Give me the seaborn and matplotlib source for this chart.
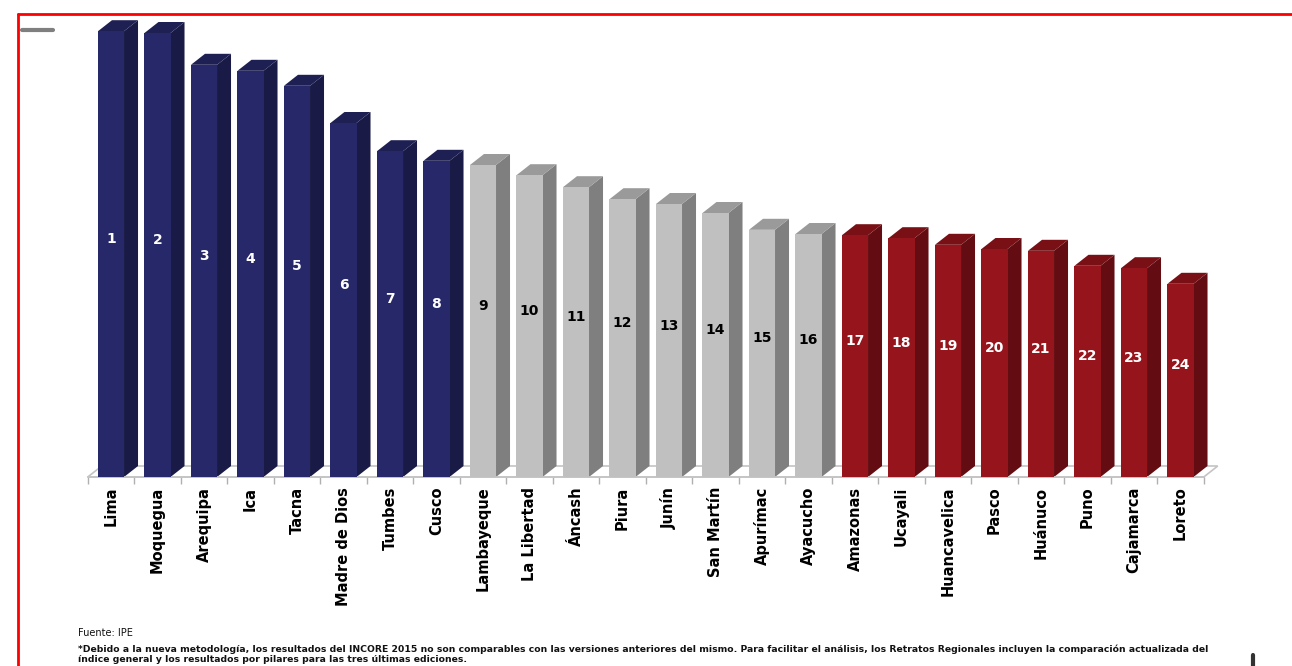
import matplotlib.pyplot as plt
import numpy as np
import pandas as pd
import seaborn as sns
from matplotlib.patches import Polygon

sns.set_theme(style="white")
plt.rcParams["font.family"] = ["DejaVu Sans"]

# INCORE ranking (bar height, arbitrary index units)
REGIONS = [
    "Lima", "Moquegua", "Arequipa", "Ica", "Tacna", "Madre de Dios", "Tumbes", "Cusco",
    "Lambayeque", "La Libertad", "Áncash", "Piura", "Junín", "San Martín", "Apurímac",
    "Ayacucho", "Amazonas", "Ucayali", "Huancavelica", "Pasco", "Huánuco", "Puno",
    "Cajamarca", "Loreto",
]
SCORES = [
    7.43, 7.40, 6.87, 6.77, 6.52, 5.90, 5.43, 5.27,
    5.20, 5.03, 4.83, 4.63, 4.55, 4.40, 4.12,
    4.05, 4.03, 3.98, 3.87, 3.80, 3.77, 3.52,
    3.48, 3.22,
]
RANKS = list(range(1, 25))
GROUPS = ["alto"] * 8 + ["medio"] * 8 + ["bajo"] * 8

PALETTE = {"alto": "#262869", "medio": "#c0c0c0", "bajo": "#96141b"}
LABEL_COLOR = {"alto": "white", "medio": "black", "bajo": "white"}

SOURCE = "Fuente: IPE"
NOTE = ("*Debido a la nueva metodología, los resultados del INCORE 2015 no son comparables con las "
        "versiones anteriores del mismo. Para facilitar el análisis, los Retratos Regionales incluyen "
        "la comparación actualizada del\níndice general y los resultados por pilares para las tres "
        "últimas ediciones.")

df = pd.DataFrame({"region": REGIONS, "score": SCORES, "rank": RANKS, "group": GROUPS})

W, H = 1292, 666
fig = plt.figure(figsize=(W / 100, H / 100), dpi=100)
ax_left, ax_right, ax_bottom, ax_top = 87.75, 1203.75, 477, 20
ax = fig.add_axes([ax_left / W, (H - ax_bottom) / H, (ax_right - ax_left) / W, (ax_bottom - ax_top) / H])

sns.barplot(data=df, x="region", y="score", hue="group", palette=PALETTE,
            dodge=False, width=0.56, legend=False, saturation=1, ax=ax)
ax.set_xlim(-0.5, len(REGIONS) - 0.5)
ax.set_ylim(0, (ax_bottom - ax_top) / 60)

# depth of the fake 3D effect, in pixels
DX, DY = 14, 11


def shifted(x, y):
    px, py = ax.transData.transform((x, y))
    return ax.transData.inverted().transform((px + DX, py + DY))


def shade(color, f):
    r, g, b = plt.matplotlib.colors.to_rgb(color)
    return (r * f, g * f, b * f)


# floor
x0, x1 = -0.5, len(REGIONS) - 0.5
floor = [(x0, 0), (x1, 0), tuple(shifted(x1, 0)), tuple(shifted(x0, 0))]
ax.add_patch(Polygon(floor, closed=True, facecolor="white", edgecolor="#c4c4c4",
                     lw=1.2, clip_on=False, zorder=0.5))

for bar in ax.patches[:]:
    if not isinstance(bar, plt.matplotlib.patches.Rectangle) or bar.get_height() <= 0:
        continue
    bx, bw, bh = bar.get_x(), bar.get_width(), bar.get_height()
    fc = bar.get_facecolor()
    bar.set_zorder(3)
    bar.set_edgecolor("none")
    side = [(bx + bw, 0), tuple(shifted(bx + bw, 0)), tuple(shifted(bx + bw, bh)), (bx + bw, bh)]
    top = [(bx, bh), (bx + bw, bh), tuple(shifted(bx + bw, bh)), tuple(shifted(bx, bh))]
    ax.add_patch(Polygon(side, closed=True, facecolor=shade(fc, 0.66), edgecolor="none",
                         clip_on=False, zorder=2))
    ax.add_patch(Polygon(top, closed=True, facecolor=shade(fc, 0.8), edgecolor="none",
                         clip_on=False, zorder=2))

for i, row in df.iterrows():
    ax.annotate(str(row["rank"]), (i, row["score"] / 2), xytext=(0, 15),
                textcoords="offset pixels", ha="center", va="center",
                fontsize=10, fontweight="bold", color=LABEL_COLOR[row["group"]], zorder=5)

ax.set_xlabel("")
ax.set_ylabel("")
ax.set_yticks([])
ax.set_xticks(range(len(REGIONS)))
ax.set_xticklabels(REGIONS, rotation=90, fontsize=10.5, fontweight="bold", color="black")
ax.set_xticks(np.arange(-0.5, len(REGIONS), 1), minor=True)
ax.tick_params(axis="x", which="major", length=0, pad=7)
ax.tick_params(axis="x", which="minor", length=5, width=1, color="#b0b0b0", bottom=True)
for side_name in ["top", "right", "left"]:
    ax.spines[side_name].set_visible(False)
ax.spines["bottom"].set_color("#c4c4c4")
ax.patch.set_alpha(0)

# page frame and footnotes
fig.add_artist(plt.Line2D([18 / W, 1], [1 - 14 / H, 1 - 14 / H], color="#ff0000", lw=2))
fig.add_artist(plt.Line2D([18 / W, 18 / W], [0, 1 - 14 / H], color="#ff0000", lw=2))
fig.add_artist(plt.Line2D([22 / W, 53 / W], [1 - 30 / H, 1 - 30 / H], color="#7f7f7f", lw=3))
fig.add_artist(plt.Line2D([1253 / W, 1253 / W], [0, 11 / H], color="#333333", lw=3))
fig.text(78 / W, 1 - 633 / H, SOURCE, fontsize=7, va="center", color="#111111")
fig.text(78 / W, 1 - 654 / H, NOTE, fontsize=6.7, fontweight="bold", va="center",
         color="#111111", linespacing=1.2)

fig.savefig("out.png", dpi=100)
